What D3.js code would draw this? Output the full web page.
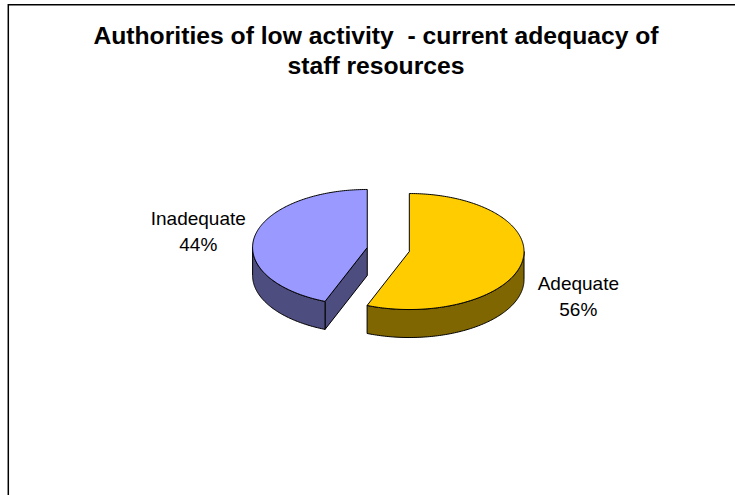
<!DOCTYPE html>
<html>
<head>
<meta charset="utf-8">
<script src="https://cdn.jsdelivr.net/npm/d3@7"></script>
<style>
  html, body { margin: 0; padding: 0; background: #fff; }
  svg { display: block; }
</style>
</head>
<body>
<svg id="chart" width="735" height="495"></svg>
<script>
// Chart data
const titleLines = ["Authorities of low activity  - current adequacy of", "staff resources"];
const categories = ["Adequate", "Inadequate"];
const percentages = [56, 44];
const topColors = ["#FFCC00", "#9999FF"];
const sideColors = ["#806600", "#4D4D80"];

const W = 735, H = 495;
const svg = d3.select("#chart");

// Chart frame (top and left edges show inside the window)
svg.append("path")
  .attr("d", `M8.3,${H} V4.7 H${W}`)
  .attr("fill", "none")
  .attr("stroke", "#000")
  .attr("stroke-width", 1.5);

// Title
const title = svg.append("text")
  .attr("text-anchor", "middle")
  .attr("font-family", "'Liberation Sans', Arial, sans-serif")
  .attr("font-weight", "bold")
  .attr("font-size", "24.7px")
  .attr("fill", "#000")
  .style("white-space", "pre");
titleLines.forEach((line, i) => {
  title.append("tspan").attr("x", 376).attr("y", 43.5 + i * 30).text(line);
});

// 3D pie geometry
const cx = 388.3, cy = 249.5;   // pie centre
const rx = 114.7, ry = 58;       // ellipse radii of the tilted disc
const depth = 28;                // thickness of the disc
const explode = 21.4;            // radial explosion of each slice

const pie = d3.pie().sort(null).value(d => d.value).startAngle(0).endAngle(2 * Math.PI);
const data = categories.map((c, i) => ({ name: c, value: percentages[i], top: topColors[i], side: sideColors[i] }));
const arcs = pie(data);

// projection of an angle (clockwise from the back of the disc) onto the ellipse
const pt = (ox, oy, a, k = 1) => [ox + k * rx * Math.sin(a), oy - k * ry * Math.cos(a)];
const sample = (a0, a1) => {
  const n = Math.max(2, Math.ceil(Math.abs(a1 - a0) / (Math.PI / 180)));
  return d3.range(n + 1).map(i => a0 + (a1 - a0) * i / n);
};
const line = d3.line();

const g = svg.append("g")
  .attr("stroke", "#000")
  .attr("stroke-width", 1)
  .attr("stroke-linejoin", "round");

arcs.forEach(s => {
  const mid = (s.startAngle + s.endAngle) / 2;
  const ox = cx + explode * Math.sin(mid);
  const oy = cy - explode * Math.cos(mid) * (ry / rx);
  s.ox = ox; s.oy = oy; s.mid = mid;

  // radial cut faces that turn toward the viewer
  const faces = [];
  if (Math.sin(s.startAngle) < -1e-6) faces.push(s.startAngle);
  if (Math.sin(s.endAngle) > 1e-6) faces.push(s.endAngle);
  faces.forEach(a => {
    const p = pt(ox, oy, a);
    g.append("path")
      .attr("d", line([[ox, oy], p, [p[0], p[1] + depth], [ox, oy + depth]]) + "Z")
      .attr("fill", s.data.side);
  });

  // outer wall on the front half of the disc
  const w0 = Math.max(s.startAngle, Math.PI / 2);
  const w1 = Math.min(s.endAngle, 3 * Math.PI / 2);
  if (w1 > w0) {
    const topEdge = sample(w0, w1).map(a => pt(ox, oy, a));
    const bottomEdge = sample(w1, w0).map(a => { const p = pt(ox, oy, a); return [p[0], p[1] + depth]; });
    g.append("path")
      .attr("d", line(topEdge.concat(bottomEdge)) + "Z")
      .attr("fill", s.data.side);
  }

  // top face
  const rim = sample(s.startAngle, s.endAngle).map(a => pt(ox, oy, a));
  g.append("path")
    .attr("d", line([[ox, oy]].concat(rim)) + "Z")
    .attr("fill", s.data.top);
});

// Data labels: category and percentage outside each slice
const labels = svg.append("g")
  .attr("font-family", "'Liberation Sans', Arial, sans-serif")
  .attr("font-size", "19px")
  .attr("fill", "#000")
  .attr("text-anchor", "middle");

arcs.forEach(s => {
  const [lx, ly0] = pt(s.ox, s.oy, s.mid, 1.5);
  const ly = ly0 + (Math.cos(s.mid) < 0 ? depth : 0);
  const t = labels.append("text");
  t.append("tspan").attr("x", lx).attr("y", ly - 6.2).text(s.data.name);
  t.append("tspan").attr("x", lx).attr("y", ly + 19.8).text(s.data.value + "%");
});
</script>
</body>
</html>
